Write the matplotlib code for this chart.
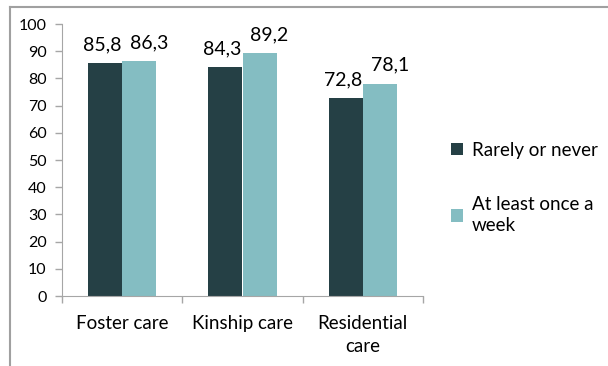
import numpy as np
import matplotlib
matplotlib.use("Agg")
import matplotlib.pyplot as plt
from matplotlib.lines import Line2D

plt.rcParams['font.family'] = ['Lato', 'DejaVu Sans']

categories = ['Foster care', 'Kinship care', 'Residential\ncare']
rarely = [85.8, 84.3, 72.8]
weekly = [86.3, 89.2, 78.1]
series_names = ['Rarely or never', 'At least once a\nweek']
yticks = list(range(0, 101, 10))

dark = '#254045'
light = '#84bdc2'
axis_gray = '#a6a6a6'

fig = plt.figure(figsize=(6.08, 3.66), dpi=100)
ax = fig.add_axes([62/608, 1-296/366, (423-62)/608, (296-24)/366])

x = np.arange(len(categories))
w = 0.285
ax.bar(x - w/2, rarely, w, color=dark, label=series_names[0])
ax.bar(x + w/2, weekly, w, color=light, label=series_names[1])

# value labels, pushed apart a little so neighbours don't collide
for xi, v in zip(x, rarely):
    ax.annotate(f'{v:.1f}'.replace('.', ','), (xi - w/2, v), xytext=(-2, 7),
                textcoords='offset points', ha='center', va='bottom', fontsize=14)
for xi, v in zip(x, weekly):
    ax.annotate(f'{v:.1f}'.replace('.', ','), (xi + w/2, v), xytext=(7, 7),
                textcoords='offset points', ha='center', va='bottom', fontsize=14)

ax.set_xlim(-0.5, len(categories) - 0.5)
ax.set_ylim(0, 100)
ax.set_yticks(yticks)
ax.tick_params(axis='y', length=5, width=1, color=axis_gray, labelsize=11.5, pad=6)

# category labels between the boundary ticks
ax.set_xticks(x)
ax.set_xticklabels(categories, fontsize=13.5, linespacing=1.4)
ax.tick_params(axis='x', length=0, pad=14)
ax.set_xticks(np.arange(len(categories) + 1) - 0.5, minor=True)
ax.tick_params(axis='x', which='minor', length=5, width=1, color=axis_gray, direction='out')

for s in ['top', 'right']:
    ax.spines[s].set_visible(False)
for s in ['left', 'bottom']:
    ax.spines[s].set_color(axis_gray)

leg = ax.legend(loc='center left', bbox_to_anchor=(434/608, 1-188/366),
                bbox_transform=fig.transFigure, frameon=False, fontsize=13.5,
                handlelength=0.65, handleheight=0.65, handletextpad=0.45,
                labelspacing=2.0)
for t in leg.get_texts():
    t.set_linespacing(1.3)

# outer chart border
fig.add_artist(Line2D([10/608, 10/608], [0, 1-7/366], color='#a0a0a0', lw=1.5))
fig.add_artist(Line2D([10/608, 1], [1-7/366, 1-7/366], color='#a0a0a0', lw=1.5))

fig.savefig('out.png', dpi=100)
